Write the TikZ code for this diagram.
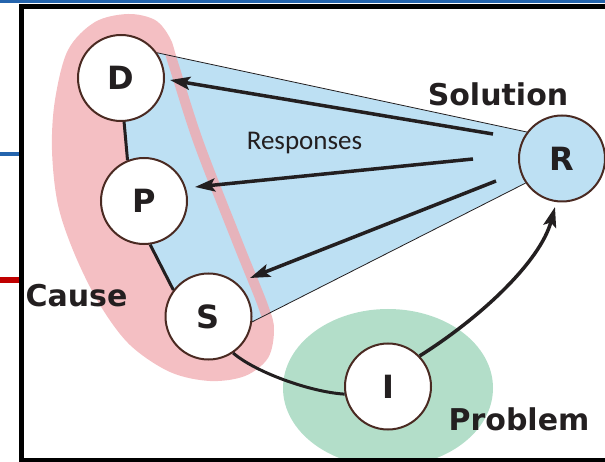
\documentclass[tikz,border=0pt]{standalone}
\usepackage{fontspec}
\newfontfamily\dvs{DejaVu Sans}
\newfontfamily\carl{Carlito}
\usetikzlibrary{arrows.meta,backgrounds}
\definecolor{pinkc}{HTML}{F4BFC3}
\definecolor{stripec}{HTML}{E6B3BB}
\definecolor{bluec}{HTML}{BDE0F3}
\definecolor{greenc}{HTML}{B3DEC9}
\definecolor{brownc}{HTML}{4A2A22}
\definecolor{textc}{HTML}{231F20}
\definecolor{barblue}{HTML}{2464AD}
\definecolor{barred}{HTML}{C00000}
\begin{document}
\begin{tikzpicture}[x=1pt,y=-1pt,
  circ/.style={circle, draw=brownc, line width=2pt, fill=white, minimum size=86pt,
    inner sep=0pt, font=\dvs\bfseries\fontsize{32}{32}\selectfont, text=textc},
  lbl/.style={font=\dvs\bfseries\fontsize{30}{30}\selectfont, text=textc, anchor=base, inner sep=0pt},
  resplbl/.style={font=\carl\fontsize{27}{27}\selectfont, text=textc, anchor=base, inner sep=0pt},
  arr/.style={line width=3.5pt, draw=textc, -{Stealth[length=20pt,width=13pt,inset=4pt]}},
  link/.style={line width=3pt, draw=textc},
  thinline/.style={line width=0.8pt, draw=textc}]
\useasboundingbox (0,0) rectangle (605,462);

% circles
\node[circ] (D) at (121,78) {D};
\node[circ] (P) at (144,201) {P};
\node[circ] (S) at (208.5,316.5) {S};
\node[circ, fill=bluec] (R) at (562,158.5) {R};
\node[circ] (I) at (388,386.5) {I};

\begin{pgfonlayer}{background}
  \fill[pinkc] plot[smooth cycle, tension=0.55] coordinates {(128,14) (155,20) (170,38) (178,62) (203,140) (242,240) (268,305) (274,330) (268,358) (245,376) (210,381) (170,372) (130,345) (100,305) (75,255) (58,205) (52,150) (55,100) (68,50) (95,22)};
  \fill[greenc] (388,388) ellipse [x radius=105, y radius=79];
  \fill[bluec] (D.35) -- (R.143) -- (R.center) -- (R.-146) -- (S.-7) -- (S.center) -- (S.143) -- (P.-82) -- (P.center) -- (P.112) -- (D.-86) -- (D.center) -- cycle;
  \begin{scope}
    \clip plot[smooth cycle, tension=0.55] coordinates {(128,14) (155,20) (170,38) (178,62) (203,140) (242,240) (268,305) (274,330) (268,358) (245,376) (210,381) (170,372) (130,345) (100,305) (75,255) (58,205) (52,150) (55,100) (68,50) (95,22)};
    \clip (D.35) -- (R.143) -- (R.center) -- (R.-146) -- (S.-7) -- (S.center) -- (S.143) -- (P.-82) -- (P.center) -- (P.112) -- (D.-86) -- (D.center) -- cycle;
    \draw[stripec, line width=20pt] plot[smooth cycle, tension=0.55] coordinates {(128,14) (155,20) (170,38) (178,62) (203,140) (242,240) (268,305) (274,330) (268,358) (245,376) (210,381) (170,372) (130,345) (100,305) (75,255) (58,205) (52,150) (55,100) (68,50) (95,22)};
  \end{scope}
\end{pgfonlayer}

% connectors
\draw[thinline] (D.35) -- (R.143);
\draw[thinline] (S.-7) -- (R.-146);
\draw[link] (D.-86) -- (P.112);
\draw[link] (P.-82) -- (S.143);
\draw[link] (S.-56) .. controls (255,372) and (310,392) .. (I.190);

\coordinate (a1s) at (493,134);
\coordinate (a1t) at (170,80);
\coordinate (a2s) at (473,159);
\coordinate (a2t) at (195,187);
\coordinate (a3s) at (496,181);
\coordinate (a3t) at (250,278);
\coordinate (a4t) at (555,207);
\draw[arr] (a1s) -- (a1t);
\draw[arr] (a2s) -- (a2t);
\draw[arr] (a3s) -- (a3t);
\draw[arr] (I.44) .. controls (480,318) and (540,262) .. (a4t);

% labels
\node[lbl] (sol) at (498,106) {Solution};
\node[lbl] (cau) at (76.5,307) {Cause};
\node[lbl] (pro) at (519,430) {Problem};
\node[resplbl] (resp) at (304.5,150) {Responses};

% frame and bars
\fill[barblue] (0,0) rectangle (605,3);
\fill[barblue] (0,152) rectangle (19,156);
\fill[barred] (0,277) rectangle (19,283);
\draw[line width=5pt] (21.5,6.5) rectangle (640,460);
\end{tikzpicture}
\end{document}
